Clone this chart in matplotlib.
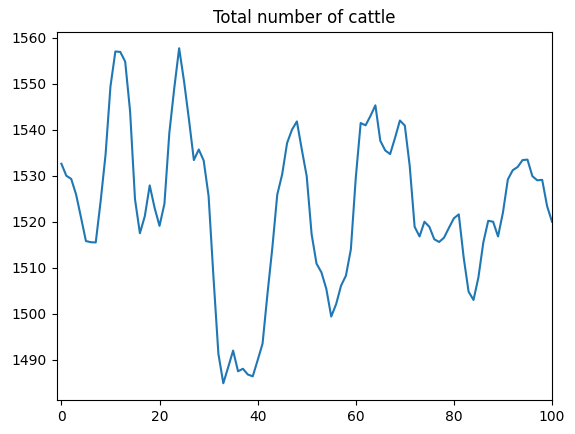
import matplotlib
matplotlib.use("Agg")
import matplotlib.pyplot as plt

x_values = list(range(101))
cattle = [
    1532.6, 1530.0, 1529.3, 1525.9, 1520.9, 1515.8, 1515.55, 1515.5, 1524.5, 1534.6,
    1549.4, 1557.0, 1556.9, 1554.8, 1544.0, 1524.9, 1517.5, 1521.2, 1527.9, 1523.0,
    1519.1, 1523.9, 1539.3, 1549.0, 1557.7, 1550.5, 1542.2, 1533.4, 1535.7, 1533.3,
    1525.6, 1507.9, 1491.3, 1484.9, 1488.4, 1492.0, 1487.5, 1488.05, 1486.8, 1486.4,
    1489.9, 1493.5, 1504.3, 1514.4, 1525.9, 1530.3, 1537.1, 1540.0, 1541.8, 1535.7,
    1529.9, 1517.3, 1510.9, 1509.0, 1505.4, 1499.4, 1502.1, 1506.1, 1508.3, 1514.0,
    1529.5, 1541.45, 1540.95, 1543.0, 1545.3, 1537.6, 1535.5, 1534.7, 1538.2, 1542.0,
    1540.9, 1532.1, 1518.9, 1516.8, 1520.0, 1518.9, 1516.2, 1515.6, 1516.55, 1518.7,
    1520.75, 1521.6, 1512.2, 1504.8, 1503.0, 1507.9, 1515.5, 1520.2, 1520.0, 1516.8,
    1522.0, 1529.2, 1531.2, 1531.9, 1533.4, 1533.5, 1529.9, 1529.0, 1529.1, 1523.4,
    1520.0,
]
title = "Total number of cattle"

fig = plt.figure(figsize=(5.75, 4.34), dpi=100)
ax = fig.add_axes([56.5 / 575, 1 - 400 / 434, (552 - 56.5) / 575, (400 - 31.5) / 434])
ax.plot(x_values, cattle, color="#1f77b4")
ax.set_xlim(-1, 100)
ax.set_title(title)
fig.savefig("out.png", dpi=100)
